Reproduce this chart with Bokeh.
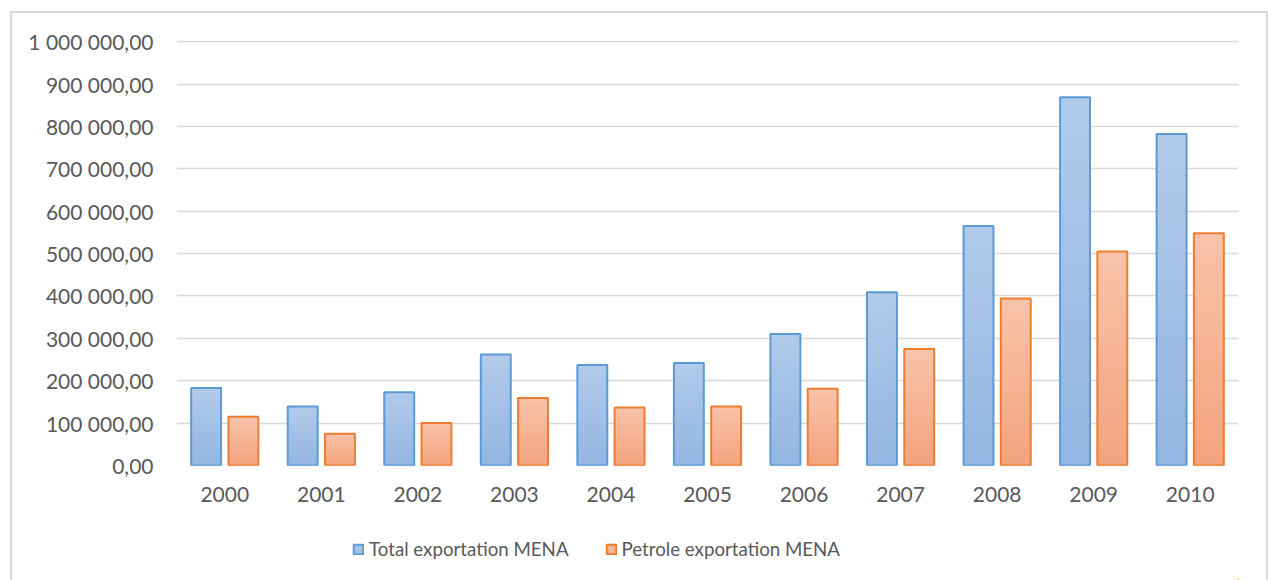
from bokeh.plotting import figure
from bokeh.layouts import column
from bokeh.models import ColumnDataSource, FactorRange, Range1d, FixedTicker, Legend, LegendItem
from bokeh.transform import dodge
from bokeh.embed import file_html
from bokeh.resources import INLINE

years = ["2000", "2001", "2002", "2003", "2004", "2005", "2006", "2007", "2008", "2009", "2010"]
total_exportation = [183000, 139000, 173000, 262000, 237000, 242000, 310000, 409000, 565000, 869000, 782000]
petrole_exportation = [115000, 75000, 100000, 159000, 137000, 139000, 181000, 275000, 394000, 505000, 548000]
series_names = ["Total exportation MENA", "Petrole exportation MENA"]
y_ticks = [0, 100000, 200000, 300000, 400000, 500000, 600000, 700000, 800000, 900000, 1000000]
y_tick_labels = ["0,00", "100 000,00", "200 000,00", "300 000,00", "400 000,00", "500 000,00",
                 "600 000,00", "700 000,00", "800 000,00", "900 000,00", "1 000 000,00"]

FONT = "Lato"
TXT = "#595959"
GRID = "#d9d9d9"

p = figure(x_range=FactorRange(*years, range_padding=0), y_range=Range1d(0, 1005000),
           width=1254, height=510, output_backend="svg", toolbar_location=None,
           min_border_left=164, min_border_right=28, min_border_top=26, min_border_bottom=58)
p.x_range.factor_padding = 0
p.outline_line_color = None
p.background_fill_color = "white"
p.border_fill_color = "white"

p.xgrid.grid_line_color = None
p.ygrid.grid_line_color = GRID
p.ygrid.grid_line_width = 1.5
p.yaxis.ticker = FixedTicker(ticks=y_ticks)
p.yaxis.major_label_overrides = {t: l for t, l in zip(y_ticks, y_tick_labels)}
for ax in (p.xaxis, p.yaxis):
    ax.axis_line_color = None
    ax.major_tick_line_color = None
    ax.minor_tick_line_color = None
    ax.major_label_text_color = TXT
    ax.major_label_text_font = FONT
    ax.major_label_text_font_size = "21px"
p.yaxis.major_label_standoff = 17
p.xaxis.major_label_standoff = 15

src = ColumnDataSource(dict(years=years, total=total_exportation, petrole=petrole_exportation))

def lerp(c1, c2, t):
    a = [int(c1[i:i + 2], 16) for i in (1, 3, 5)]
    b = [int(c2[i:i + 2], 16) for i in (1, 3, 5)]
    return "#%02x%02x%02x" % tuple(round(a[i] + (b[i] - a[i]) * t) for i in range(3))

# legend-only strip under the chart (its bars are placed far outside its visible ranges)
lf = figure(width=1254, height=57, output_backend="svg", toolbar_location=None,
            x_range=FactorRange(*years, range_padding=0), y_range=Range1d(1500000, 2500000),
            min_border_left=0, min_border_right=0, min_border_top=0, min_border_bottom=0)
lf.axis.visible = False
lf.grid.visible = False
lf.outline_line_color = None
lf.background_fill_color = "white"
lf.border_fill_color = "white"

N = 18
specs = [("total", -0.193, "#b1caea", "#94b6e2", "#5b9bd5"),
         ("petrole", 0.193, "#f8c2a8", "#f4a47f", "#ed7d31")]
W = 0.31
legend_renderers = []
for field, off, top_c, bot_c, edge in specs:
    for k in range(N):
        frac = 1 - k / N
        layer = {"years": years, "h": [v * frac for v in src.data[field]]}
        p.vbar(x=dodge("years", off, range=p.x_range), top="h", width=W, source=ColumnDataSource(layer),
               fill_color=lerp(top_c, bot_c, k / (N - 1)), line_color=None)
    p.vbar(x=dodge("years", off, range=p.x_range), top=field, width=W, source=src,
           fill_color=None, line_color=edge, line_width=2)
    r = lf.vbar(x=dodge("years", 40, range=lf.x_range), top=field, width=W, source=src,
                fill_color=lerp(top_c, bot_c, 0.4), line_color=edge, line_width=2)
    legend_renderers.append(r)

legend = Legend(items=[LegendItem(label=n, renderers=[r]) for n, r in zip(series_names, legend_renderers)],
                orientation="horizontal", location=(176, 20))
legend.label_text_font = FONT
legend.label_text_font_size = "18.7px"
legend.label_text_color = TXT
legend.glyph_width = 12
legend.glyph_height = 12
legend.label_standoff = 5
legend.spacing = 36
legend.border_line_color = None
legend.background_fill_alpha = 0
legend.margin = 0
legend.padding = 0
lf.add_layout(legend)

layout = column(p, lf, spacing=0, margin=(11, 0, 0, 10),
                styles={"border-top": "2px solid #d9d9d9", "border-left": "2px solid #d9d9d9",
                        "border-right": "2px solid #d9d9d9"})

open("out.html", "w").write(file_html(layout, INLINE))
